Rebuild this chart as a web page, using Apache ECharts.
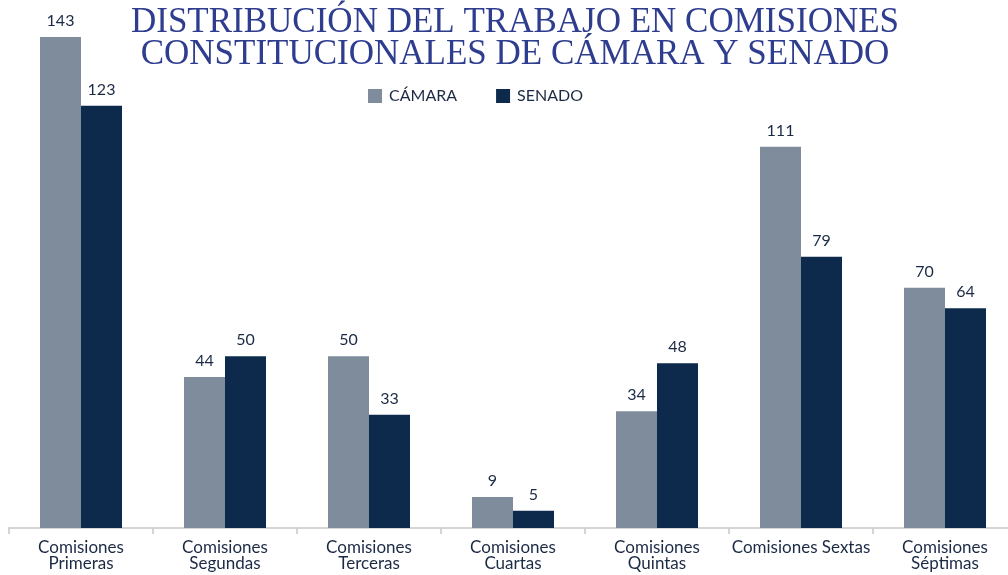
<!DOCTYPE html>
<html>
<head>
<meta charset="utf-8">
<script src="https://cdn.jsdelivr.net/npm/echarts@6/dist/echarts.min.js"></script>
<style>
  html, body { margin: 0; padding: 0; background: #fff; }
  #chart { width: 1008px; height: 575px; }
</style>
</head>
<body>
<div id="chart"></div>
<script>
// datos
var categories = [
  "Comisiones\nPrimeras",
  "Comisiones\nSegundas",
  "Comisiones\nTerceras",
  "Comisiones\nCuartas",
  "Comisiones\nQuintas",
  "Comisiones Sextas",
  "Comisiones\nSéptimas"
];
var camara = [143, 44, 50, 9, 34, 111, 70];
var senado = [123, 50, 33, 5, 48, 79, 64];

var chart = echarts.init(document.getElementById("chart"));
var labelStyle = {
  show: true,
  position: "top",
  distance: 8,
  color: "#1b2a44",
  fontFamily: "Lato, 'Open Sans', sans-serif",
  fontSize: 16
};

chart.setOption({
  animation: false,
  title: {
    text: "DISTRIBUCIÓN DEL TRABAJO EN COMISIONES\nCONSTITUCIONALES DE CÁMARA Y SENADO",
    left: 510,
    textAlign: "center",
    top: 2,
    textStyle: {
      fontFamily: "'Liberation Serif', 'DejaVu Serif', serif",
      fontWeight: "normal",
      fontSize: 35,
      lineHeight: 32,
      color: "#2f3d8f"
    }
  },
  legend: {
    top: 83,
    left: 363,
    itemGap: 39,
    itemWidth: 14,
    itemHeight: 14,
    icon: "rect",
    textStyle: {
      fontFamily: "Lato, 'Open Sans', sans-serif",
      fontSize: 16,
      color: "#1b2a44",
      padding: [0, 0, 0, 2]
    },
    data: ["CÁMARA", "SENADO"]
  },
  grid: {
    left: 9,
    width: 1008,
    top: 37,
    bottom: 47,
    outerBoundsMode: "none",
    containLabel: false
  },
  xAxis: {
    type: "category",
    data: categories,
    axisLine: { lineStyle: { color: "#d4d4d4", width: 2 } },
    axisTick: { show: true, length: 6, lineStyle: { color: "#d4d4d4", width: 2 } },
    axisLabel: {
      interval: 0,
      margin: 12,
      color: "#1b2a44",
      fontFamily: "Lato, 'Open Sans', sans-serif",
      fontSize: 17,
      lineHeight: 16
    }
  },
  yAxis: {
    type: "value",
    min: 0,
    max: 143,
    show: false,
    splitLine: { show: false }
  },
  series: [
    {
      name: "CÁMARA",
      type: "bar",
      data: camara,
      barWidth: 41,
      barGap: "0%",
      itemStyle: { color: "#7f8c9c" },
      label: labelStyle
    },
    {
      name: "SENADO",
      type: "bar",
      data: senado,
      barWidth: 41,
      itemStyle: { color: "#0d2a4d" },
      label: labelStyle
    }
  ]
});
</script>
</body>
</html>
